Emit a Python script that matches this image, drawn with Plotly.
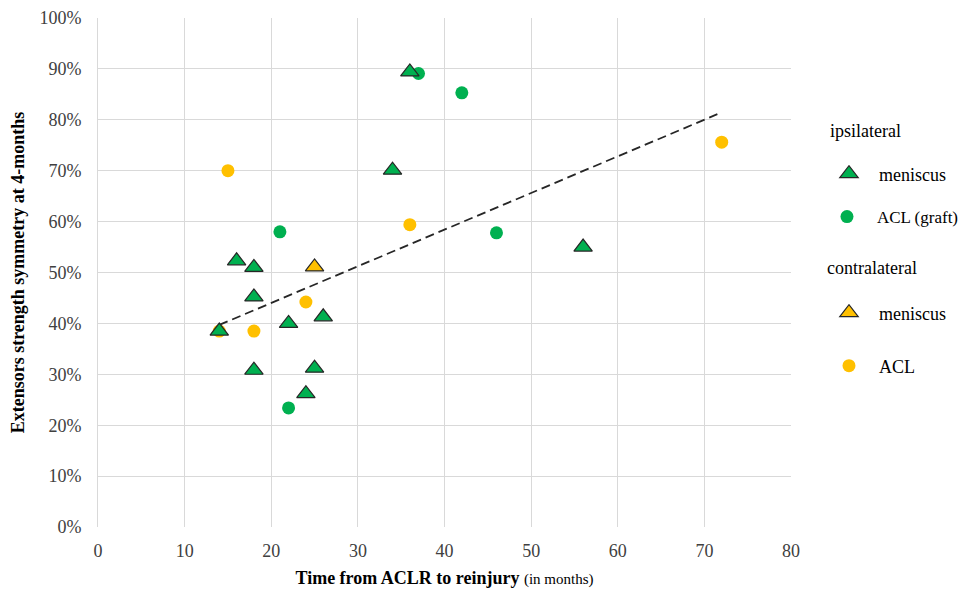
import plotly.graph_objects as go

# ipsilateral meniscus
ipsi_men_x = [14, 16, 18, 18, 18, 22, 25, 24, 26, 34, 36, 56]
ipsi_men_y = [0.385, 0.523, 0.510, 0.452, 0.308, 0.400, 0.312, 0.262, 0.413, 0.701, 0.894, 0.550]
# ipsilateral ACL (graft)
ipsi_acl_x = [21, 22, 37, 42, 46]
ipsi_acl_y = [0.580, 0.234, 0.891, 0.853, 0.578]
# contralateral meniscus
contra_men_x = [25]
contra_men_y = [0.511]
# contralateral ACL
contra_acl_x = [15, 14, 18, 24, 36, 72]
contra_acl_y = [0.700, 0.385, 0.385, 0.442, 0.594, 0.756]
# trendline endpoints
trend_x = [14, 71.5]
trend_y = [0.397, 0.811]

GREEN = "#00b050"
YELLOW = "#ffc000"
FONT = "Liberation Serif"

fig = go.Figure()
fig.add_trace(go.Scatter(x=trend_x, y=trend_y, mode="lines",
                         line=dict(color="#262626", width=1.8, dash="9px,5px"),
                         showlegend=False, hoverinfo="skip"))
fig.add_trace(go.Scatter(x=contra_acl_x, y=contra_acl_y, mode="markers", name="ACL",
                         marker=dict(symbol="circle", size=13, color=YELLOW),
                         legend="legend4"))
fig.add_trace(go.Scatter(x=ipsi_acl_x, y=ipsi_acl_y, mode="markers", name="ACL (graft)",
                         marker=dict(symbol="circle", size=13, color=GREEN),
                         legend="legend2"))
fig.add_trace(go.Scatter(x=contra_men_x, y=contra_men_y, mode="markers", name="meniscus",
                         marker=dict(symbol="triangle-up", size=16, color=YELLOW,
                                     line=dict(color="#262626", width=1.2)),
                         legend="legend3"))
fig.add_trace(go.Scatter(x=ipsi_men_x, y=ipsi_men_y, mode="markers", name="meniscus",
                         marker=dict(symbol="triangle-up", size=16, color=GREEN,
                                     line=dict(color="#262626", width=1.2)),
                         legend="legend"))

def py(screen_y):
    return 1 - (screen_y - 18) / 509

leg_common = dict(font=dict(family=FONT, size=18, color="#000"), bgcolor="rgba(0,0,0,0)",
                  xanchor="left", yanchor="middle", x=1.0404, itemwidth=50)
fig.update_layout(
    width=962, height=582,
    margin=dict(l=90, r=179, t=10, b=63, autoexpand=False),
    plot_bgcolor="white", paper_bgcolor="white",
    font=dict(family=FONT, size=16, color="#333"),
    legend=dict(**{**leg_common, "y": py(174)}),
    legend2=dict(**{**leg_common, "y": py(217), "x": 1.0375,
                    "font": dict(family=FONT, size=17, color="#000")}),
    legend3=dict(**{**leg_common, "y": py(313)}),
    legend4=dict(**{**leg_common, "y": py(366)}),
    xaxis=dict(range=[0, 80], dtick=10, showgrid=True, gridcolor="#d9d9d9", gridwidth=1,
               zeroline=False, showline=False, ticks="outside", ticklen=7,
               tickcolor="rgba(0,0,0,0)",
               tickfont=dict(family=FONT, size=18, color="#404040"),
               title=dict(text="<b>Time from ACLR to reinjury</b> <span style='font-size:15px'>(in months)</span>",
                          font=dict(family=FONT, size=18, color="#000"), standoff=11)),
    yaxis=dict(range=[0, 1], dtick=0.1, tickformat=".0%", showgrid=True, gridcolor="#d9d9d9",
               gridwidth=1, zeroline=False, showline=True, linecolor="#d9d9d9",
               ticks="outside", ticklen=12, tickcolor="rgba(0,0,0,0)",
               tickfont=dict(family=FONT, size=18, color="#404040"),
               title=dict(text="<b>Extensors strength symmetry at 4-months</b>",
                          font=dict(family=FONT, size=18, color="#000"), standoff=10)),
    annotations=[
        dict(text="ipsilateral", xref="paper", yref="paper", x=1.053, y=py(131),
             xanchor="left", yanchor="middle", showarrow=False,
             font=dict(family=FONT, size=18, color="#000")),
        dict(text="contralateral", xref="paper", yref="paper", x=1.049, y=py(268),
             xanchor="left", yanchor="middle", showarrow=False,
             font=dict(family=FONT, size=18, color="#000")),
    ],
)
fig.write_html("out.html")
